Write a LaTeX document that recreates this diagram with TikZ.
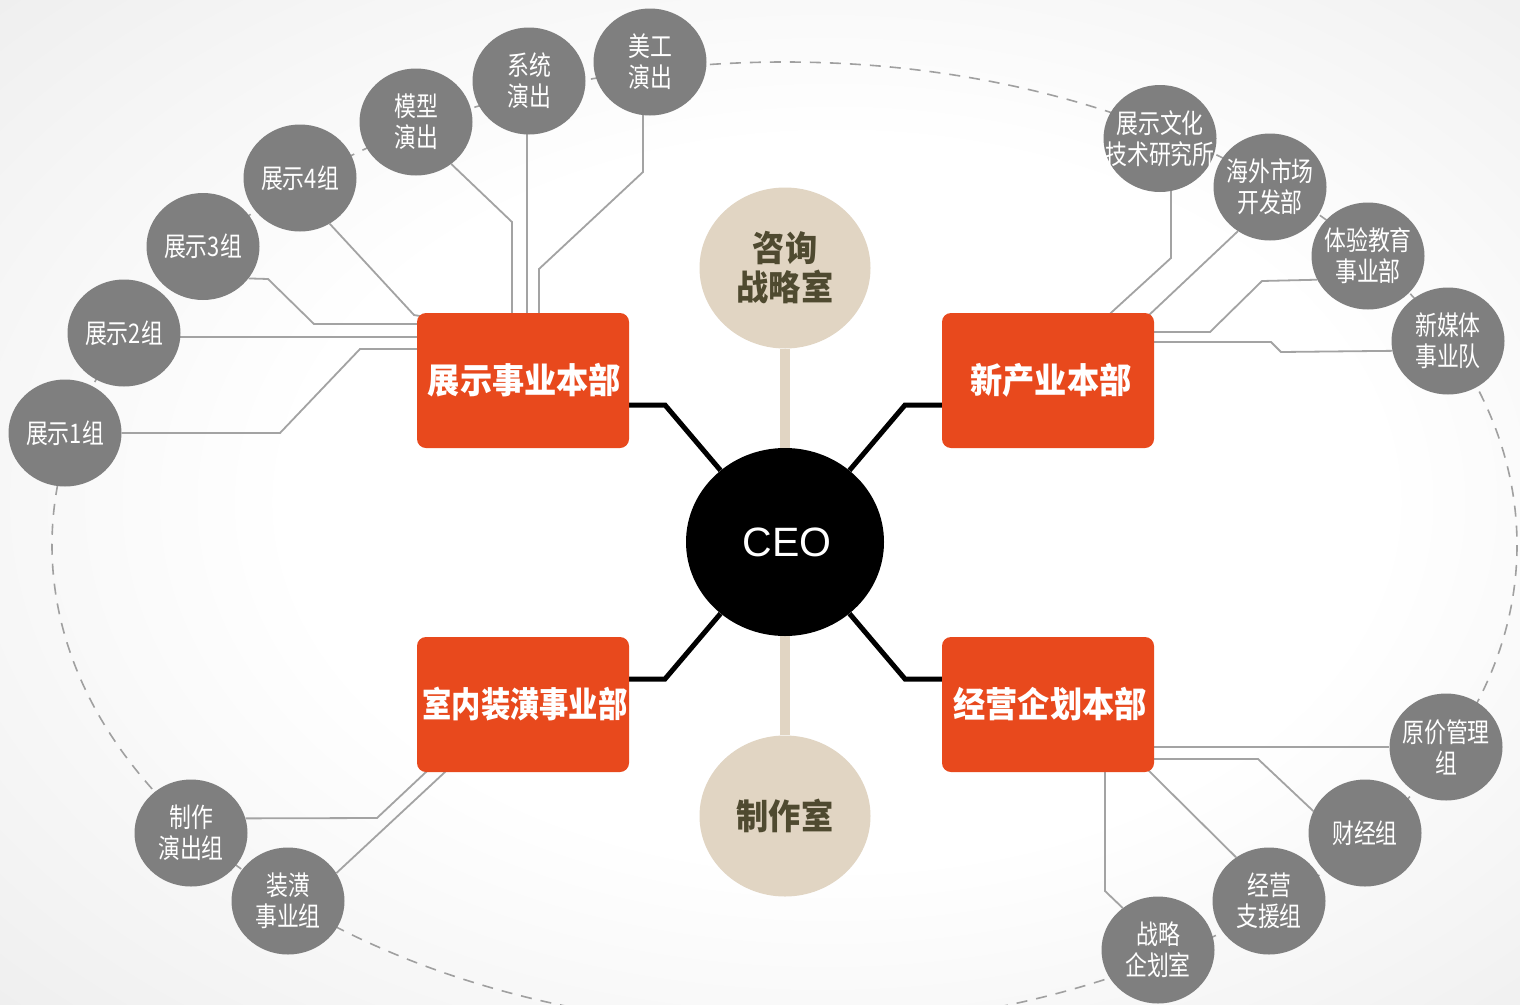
\documentclass[tikz,border=0pt]{standalone}
\usepackage{fontspec}
\usepackage{graphicx}
\setmainfont{Liberation Sans}
\newfontfamily\cjk[FakeStretch=0.81]{Noto Sans CJK SC}
\newfontfamily\cjkbox[FakeStretch=0.92]{Noto Sans CJK SC}
\usetikzlibrary{shapes.geometric,calc}
\definecolor{orangebox}{HTML}{E8491D}
\definecolor{subgray}{HTML}{7F7F7F}
\definecolor{beige}{HTML}{E1D5C3}
\definecolor{olive}{HTML}{4F4A30}
\definecolor{linegray}{HTML}{A3A3A3}
\definecolor{dashgray}{HTML}{A0A0A0}
\pgfdeclarelayer{bglayer}
\pgfdeclarelayer{edgelayer}
\pgfsetlayers{bglayer,edgelayer,main}
\pgfdeclareradialshading{bgshade}{\pgfpoint{4bp}{0bp}}{color(0bp)=(white); color(18bp)=(white); color(50bp)=(black!11)}
\tikzset{
 sub/.style={ellipse, fill=subgray, minimum width=113pt, minimum height=107pt, inner sep=0pt},
 subtxt/.style={text=white, font=\cjk\fontsize{27}{31}\selectfont, align=center, inner sep=0pt},
 dept/.style={rectangle, rounded corners=9pt, fill=orangebox, minimum width=212pt, minimum height=135pt, inner sep=0pt, text=white, font=\cjkbox\bfseries\fontsize{35}{40}\selectfont},
 aux/.style={ellipse, fill=beige, minimum width=171pt, minimum height=161pt, inner sep=0pt, text=olive, font=\cjkbox\bfseries\fontsize{35}{39}\selectfont, align=center},
 ceo/.style={ellipse, fill=black, minimum width=198pt, minimum height=188pt, text=white, font=\fontsize{41}{45}\selectfont, inner sep=0pt},
 link/.style={draw=linegray, line width=1.8pt, line join=miter},
 spoke/.style={draw=black, line width=5pt, line join=miter},
 stem/.style={draw=beige, line width=10pt},
}
\begin{document}
\begin{tikzpicture}[x=1pt,y=-1pt]
\useasboundingbox (0,0) rectangle (1520,1004);
\begin{pgfonlayer}{bglayer}
 \clip (0,0) rectangle (1520,1004);
 \shade[shading=bgshade] (0,0) rectangle (1520,1004);
 \draw[dashgray, line width=1.6pt, dash pattern=on 11pt off 9pt] (784.5,545) ellipse [x radius=732.5, y radius=483];
\end{pgfonlayer}

% center
\node[ceo] (ceo) at (785,542) {\hspace{4pt}CEO};
\node[aux] (zx) at (785,268) {咨询\\战略室};
\node[aux] (zz) at (785,816) {制作室};
% departments
\node[dept] (b1) at (523,380.5) {\hspace{3pt}展示事业本部};
\node[dept] (b2) at (1048,380.5) {\hspace{6pt}新产业本部};
\node[dept] (b3) at (523,704.5) {\hspace{4pt}\scalebox{0.91}[1]{室内装潢事业部}};
\node[dept] (b4) at (1048,704.5) {\hspace{4pt}经营企划本部};
% groups top-left
\node[sub, label={[subtxt]center:{展示1组}}] (s1) at (65,433) {};
\node[sub, label={[subtxt]center:{展示2组}}] (s2) at (124,333) {};
\node[sub, label={[subtxt]center:{展示3组}}] (s3) at (203,246.5) {};
\node[sub, label={[subtxt]center:{展示4组}}] (s4) at (300,178) {};
\node[sub, label={[subtxt]center:{模型\\演出}}] (s5) at (416,122) {};
\node[sub, label={[subtxt]center:{系统\\演出}}] (s6) at (529,81) {};
\node[sub, label={[subtxt]center:{美工\\演出}}] (s7) at (650,62) {};
% groups top-right
\node[sub, label={[subtxt]center:{展示文化\\技术研究所}}] (t1) at (1160,138.5) {};
\node[sub, label={[subtxt]center:{海外市场\\开发部}}] (t2) at (1270,187) {};
\node[sub, label={[subtxt]center:{体验教育\\事业部}}] (t3) at (1368,256) {};
\node[sub, label={[subtxt]center:{新媒体\\事业队}}] (t4) at (1448,341) {};
% groups bottom-right
\node[sub, label={[subtxt]center:{原价管理\\组}}] (v1) at (1446,747) {};
\node[sub, label={[subtxt]center:{财经组}}] (v2) at (1365,833) {};
\node[sub, label={[subtxt]center:{经营\\支援组}}] (v3) at (1269,901) {};
\node[sub, label={[subtxt]center:{战略\\企划室}}] (v4) at (1158,950) {};
% groups bottom-left
\node[sub, label={[subtxt]center:{制作\\演出组}}] (u1) at (191,833) {};
\node[sub, label={[subtxt]center:{装潢\\事业组}}] (u2) at (288,901) {};

\begin{pgfonlayer}{edgelayer}
 % stems
 \draw[stem] (zx.south) -- (ceo.north);
 \draw[stem] (zz.north) -- (ceo.south);
 % spokes
 \draw[spoke] ($(b1.east)+(-5,24.5)$) -- (665,405) -- (ceo.132);
 \draw[spoke] ($(b2.west)+(5,24.5)$) -- (905,405) -- (ceo.48);
 \draw[spoke] ($(b3.east)+(-5,-25.5)$) -- (665,679) -- (ceo.228);
 \draw[spoke] ($(b4.west)+(5,-25.5)$) -- (905,679) -- (ceo.-48);
 % top-left links
 \draw[link] (s1.east) -- (280,433) -- (360,349) -- ($(b1.west)+(5,-31.5)$);
 \draw[link] ($(s2.east)+(-2,4)$) -- ($(b1.west)+(5,-43.5)$);
 \draw[link] (s3.-35) -- (268,279) -- (314,324) -- ($(b1.west)+(5,-56.5)$);
 \draw[link] (s4.-57) -- (414,315) -- ($(b1.north west)+(8,4)$);
 \draw[link] (s5.-50) -- (512,222) -- ($(b1.north)+(-11,5)$);
 \draw[link] ($(s6.south)+(-2,-2)$) -- ($(b1.north)+(4,5)$);
 \draw[link] ($(s7.south)+(-7,-2)$) -- (643,172) -- (539,269) -- ($(b1.north)+(16,5)$);
 % top-right links
 \draw[link] ($(t1.south)+(11,-2)$) -- (1171,258) -- ($(b2.north)+(63,0)$) -- ($(b2.north)+(58,5)$);
 \draw[link] (t2.-126) -- ($(b2.north east)+(-6,3)$);
 \draw[link] (t3.205) -- (1262,281) -- (1210,332) -- ($(b2.east)+(-5,-48.5)$);
 \draw[link] ($(b2.east)+(-5,-38.5)$) -- (1271,342) -- (1281,352) -- (t4.190);
 % bottom-left links
 \draw[link] (u1.15) -- (377,818) -- ($(b3.south west)+(9,0)$) -- ($(b3.south west)+(13,-4)$);
 \draw[link] (u2.30) -- ($(b3.south west)+(28,0)$) -- ($(b3.south west)+(31,-4)$);
 % bottom-right links
 \draw[link] ($(b4.east)+(-5,42.5)$) -- (v1.west);
 \draw[link] ($(b4.east)+(-5,54.5)$) -- (1258,759) -- (v2.157);
 \draw[link] ($(b4.south east)+(-8,-4)$) -- (v3.127);
 \draw[link] ($(b4.south)+(57,-5)$) -- (1105,891) -- (v4.130);
\end{pgfonlayer}
\end{tikzpicture}
\end{document}
